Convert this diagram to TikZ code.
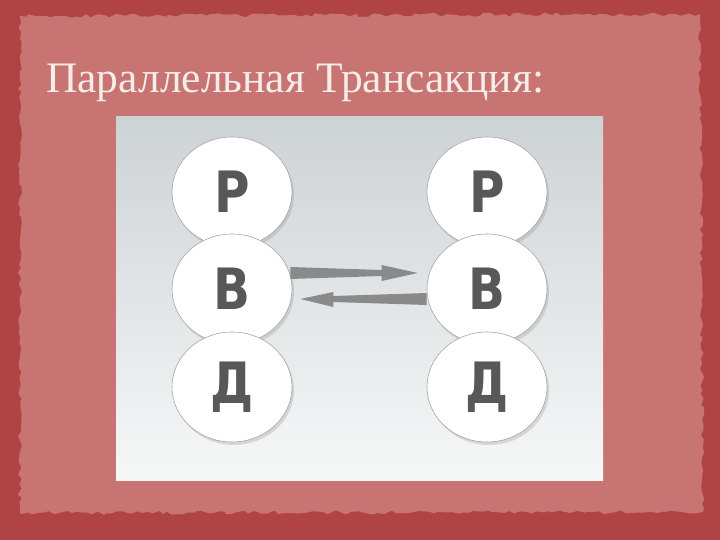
\documentclass[tikz,border=0pt]{standalone}
\usepackage{fontspec}
\setmainfont{Liberation Serif}
\newfontfamily\letterfont{DejaVu Sans}[FakeStretch=0.85]
\usetikzlibrary{shapes.geometric,shadows,arrows.meta,decorations.pathmorphing,calc}
\definecolor{bgdark}{RGB}{176,68,68}
\definecolor{bgin}{RGB}{200,116,114}
\definecolor{titlecol}{RGB}{246,236,232}
\definecolor{panTop}{RGB}{205,210,213}
\definecolor{panBot}{RGB}{246,248,248}
\definecolor{lettergray}{RGB}{88,88,88}
\definecolor{arrowgray}{RGB}{138,138,138}
\tikzset{
  ball/.style={ellipse, minimum width=120pt, minimum height=110pt, inner sep=0pt,
    fill=white, draw=gray!70, line width=0.6pt,
    drop shadow={shadow xshift=2pt, shadow yshift=-3pt, opacity=0.25},
    font=\letterfont\bfseries\fontsize{57}{57}\selectfont, text=lettergray},
  arr/.style={fill=arrowgray},
  titlestyle/.style={anchor=base west, inner sep=0pt, text=titlecol,
    font=\fontsize{43.5}{43.5}\selectfont}
}
\begin{document}
\begin{tikzpicture}[x=1pt,y=-1pt]
\useasboundingbox (0,0) rectangle (720,540);
\fill[bgdark] (0,0) rectangle (720,540);
\fill[bgin, decorate, decoration={random steps,segment length=5pt,amplitude=2pt}]
  (20,16) -- (700,14) -- (703,512) -- (20,513) -- cycle;
\node[titlestyle] (title) at (46,93) {Параллельная Трансакция:};
\shade[top color=panTop, bottom color=panBot] (116,117) rectangle (603,480);
\node[ball] (lr) at (232,192) {Р};
\node[ball] (rr) at (487,192) {Р};
\node[ball] (lb) at (232,289) {В};
\node[ball] (rb) at (487,289) {В};
\node[ball] (ld) at (232,387) {Д};
\node[ball] (rd) at (487,387) {Д};
% top arrow: left B -> right B
\coordinate (t0) at ($(lb.east)+(-2,-16)$);
\coordinate (t1) at ($(rb.west)+(-9,-16)$);
\fill[arr] ($(t0)+(0,-6)$) -- ($(t1)+(-36,-3)$) -- ($(t1)+(-36,-8)$) -- (t1)
  -- ($(t1)+(-36,8)$) -- ($(t1)+(-36,3)$) -- ($(t0)+(0,6)$) -- cycle;
% bottom arrow: right B -> left B
\coordinate (b0) at ($(rb.west)+(0,10)$);
\coordinate (b1) at ($(lb.east)+(8,10)$);
\fill[arr] ($(b0)+(0,-6)$) -- ($(b1)+(33,-3)$) -- ($(b1)+(33,-7)$) -- (b1)
  -- ($(b1)+(33,8)$) -- ($(b1)+(33,3)$) -- ($(b0)+(0,6)$) -- cycle;
\end{tikzpicture}
\end{document}
